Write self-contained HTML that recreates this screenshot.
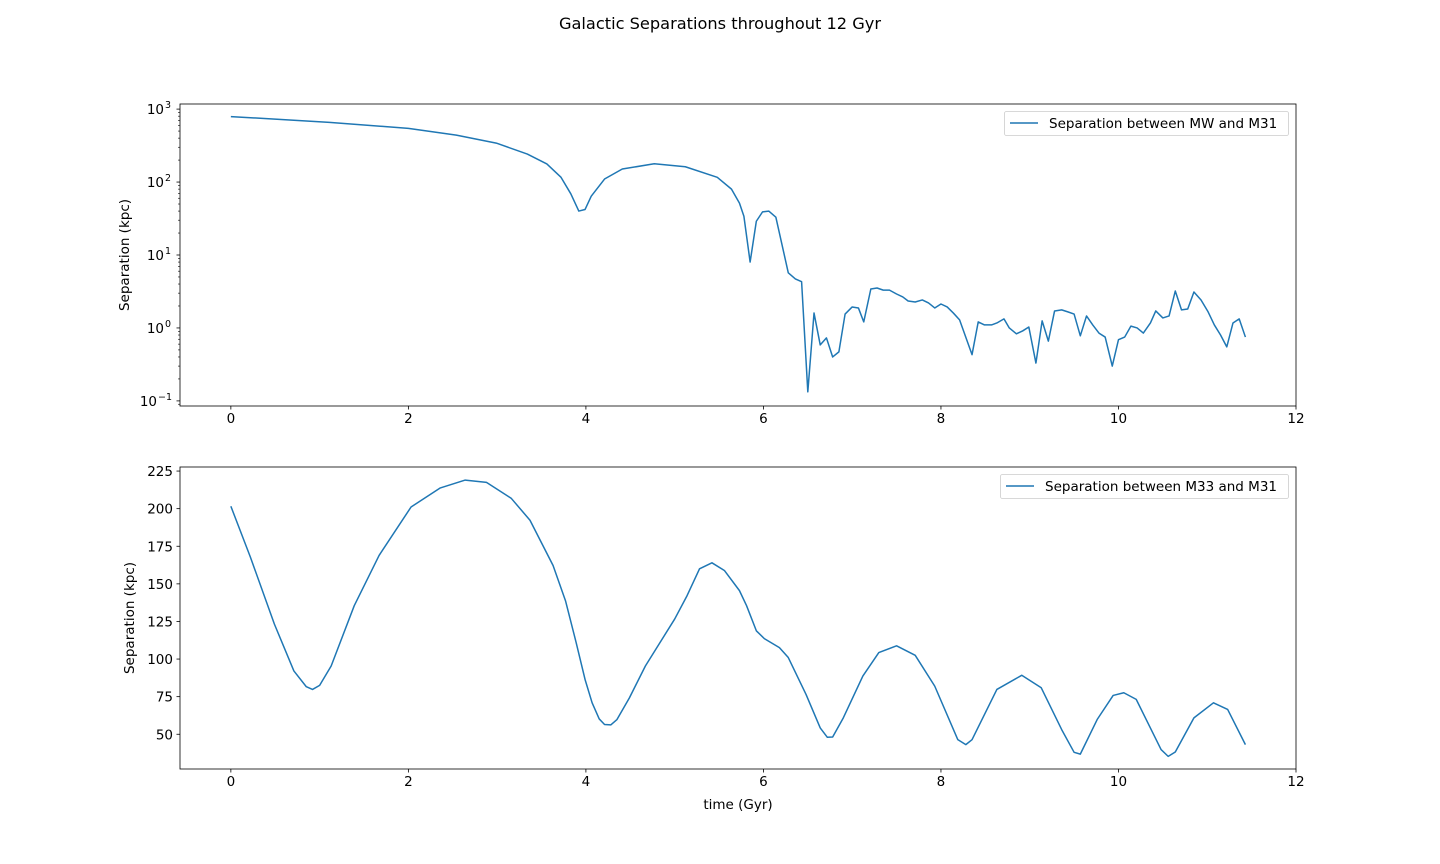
<!DOCTYPE html>
<html><head><meta charset="utf-8"><style>
html,body{margin:0;padding:0;background:#fff;}
svg{display:block;font-family:"DejaVu Sans","Liberation Sans",sans-serif;}
</style></head><body>
<svg id="fig" width="1440" height="864" viewBox="0 0 1440 864">
<rect width="1440" height="864" fill="#fff"/>
<text x="720" y="29" text-anchor="middle" font-size="16.2" fill="#000">Galactic Separations throughout 12 Gyr</text>
</svg>
<script>
const xTicks = [0, 2, 4, 6, 8, 10, 12];
const topYTickExps = [-1, 0, 1, 2, 3];
const botYTicks = [50, 75, 100, 125, 150, 175, 200, 225];

const mwTime = [0, 1.11, 2.0, 2.54, 2.99, 3.34, 3.56, 3.72, 3.83, 3.92, 3.99, 4.06, 4.21, 4.41, 4.77, 5.12, 5.48, 5.64,
 5.73, 5.78, 5.85, 5.92, 5.99, 6.06, 6.14, 6.28, 6.36, 6.43, 6.50, 6.57, 6.64, 6.71, 6.78, 6.85, 6.92, 7.00, 7.07, 7.13,
 7.21, 7.28, 7.35, 7.42, 7.50, 7.57, 7.63, 7.71, 7.79, 7.86, 7.93, 8.00, 8.07, 8.14, 8.21, 8.35, 8.42, 8.49, 8.57, 8.63,
 8.71, 8.77, 8.85, 8.92, 8.99, 9.07, 9.14, 9.21, 9.28, 9.36, 9.43, 9.50, 9.57, 9.64, 9.71, 9.78, 9.85, 9.93, 10.00,
 10.07, 10.14, 10.21, 10.28, 10.36, 10.42, 10.50, 10.57, 10.64, 10.71, 10.78, 10.85, 10.93, 11.01, 11.08, 11.15, 11.22,
 11.29, 11.36, 11.43];
const mwSep = [790, 658, 544, 440, 342, 242, 177, 116, 69, 40, 42, 64, 110, 151, 178, 162, 116, 80,
 51.5, 34, 8.0, 29, 39, 40, 33, 5.7, 4.7, 4.3, 0.133, 1.6, 0.585, 0.73, 0.40, 0.47, 1.55, 1.94, 1.88, 1.21,
 3.42, 3.53, 3.3, 3.3, 2.92, 2.66, 2.34, 2.27, 2.42, 2.2, 1.88, 2.13, 1.94, 1.6, 1.29, 0.43, 1.21, 1.1, 1.1, 1.17,
 1.33, 1.0, 0.83, 0.91, 1.03, 0.33, 1.25, 0.66, 1.71, 1.77, 1.66, 1.55, 0.78, 1.46, 1.1, 0.85, 0.75, 0.30, 0.69,
 0.75, 1.06, 1.0, 0.85, 1.17, 1.71, 1.37, 1.46, 3.21, 1.77, 1.82, 3.11, 2.42, 1.66, 1.1, 0.80, 0.55,
 1.17, 1.33, 0.75];

const m33Time = [0, 0.22, 0.49, 0.71, 0.85, 0.92, 1.0, 1.13, 1.39, 1.67, 2.03, 2.36, 2.64, 2.88, 3.16, 3.37, 3.63, 3.77,
 3.89, 3.99, 4.07, 4.15, 4.21, 4.28, 4.35, 4.49, 4.67, 5.0, 5.14, 5.28, 5.42, 5.56, 5.73, 5.81, 5.92, 6.01, 6.18, 6.28,
 6.48, 6.64, 6.72, 6.78, 6.90, 7.12, 7.30, 7.50, 7.71, 7.93, 8.19, 8.28, 8.35, 8.63, 8.91, 9.13, 9.36, 9.50, 9.57,
 9.76, 9.94, 10.06, 10.20, 10.48, 10.56, 10.64, 10.85, 11.07, 11.23, 11.43];
const m33Sep = [201.6, 167.8, 123.3, 92.1, 81.6, 79.8, 82.5, 95.4, 135.5, 168.9, 201.1, 213.8, 219, 217.5, 206.8, 192.3, 162.2, 138.8,
 111, 86.5, 70.9, 60.2, 56.5, 56.2, 59.8, 74.2, 95.4, 126.6, 142.2, 160, 164, 158.9, 145.5, 135.5, 118.8, 113.6, 107.6, 101,
 76.5, 54.2, 48, 48.2, 60.9, 88.7, 104.3, 108.8, 102.5, 82, 46.4, 43.1, 46.4, 79.8, 89.2, 80.9, 53.1, 38, 36.8,
 59.8, 75.8, 77.6, 73.2, 39.8, 35.3, 38.2, 60.9, 70.9, 66.5, 43.1];

const NS = 'http://www.w3.org/2000/svg';
const svg = document.getElementById('fig');
function mk(tag, attrs, parent) {
  const e = document.createElementNS(NS, tag);
  for (const k in attrs) e.setAttribute(k, attrs[k]);
  (parent || svg).appendChild(e);
  return e;
}
const L = 180, R = 1296;
const xMin = -0.573, xMax = 12;
function xs(t) { return L + (t - xMin) / (xMax - xMin) * (R - L); }

function panel(name) {
  const g = mk('g', {});
  
  
  return g;
}

// ---------- TOP PANEL ----------
const T1 = 104, B1 = 406;
const logMin = -1.07, logMax = 3.07;
function ys1(v) { return B1 - (Math.log10(v) - logMin) / (logMax - logMin) * (B1 - T1); }
const g1 = panel('top-panel');
let d = mwTime.map((t, i) => (i ? 'L' : 'M') + xs(t).toFixed(2) + ' ' + ys1(mwSep[i]).toFixed(2)).join(' ');
const line1 = mk('path', {d: d, fill: 'none', stroke: '#1f77b4', 'stroke-width': 1.5, 'stroke-linejoin': 'round'}, g1);


const frame1 = mk('rect', {x: L, y: T1, width: R - L, height: B1 - T1, fill: 'none', stroke: '#000', 'stroke-width': 0.8}, g1);


xTicks.forEach(t => {
  const x = xs(t);
  mk('line', {x1: x, x2: x, y1: B1, y2: B1 + 3.5, stroke: '#000', 'stroke-width': 0.8}, g1);
  const tx = mk('text', {x: x, y: B1 + 17, 'text-anchor': 'middle', 'font-size': 13.5}, g1);
  tx.textContent = t;
  
  
});
topYTickExps.forEach(e => {
  const y = ys1(Math.pow(10, e));
  mk('line', {x1: L, x2: L - 3.5, y1: y, y2: y, stroke: '#000', 'stroke-width': 0.8}, g1);
  const baseX = e < 0 ? L - 23 : L - 16;
  const tx = mk('text', {x: baseX, y: y + 5, 'text-anchor': 'end', 'font-size': 13.5}, g1);
  tx.textContent = '10';
  
  
  const sup = mk('text', {x: baseX + 1, y: y - 1, 'text-anchor': 'start', 'font-size': 9.5}, g1);
  sup.textContent = e < 0 ? '\u2212' + (-e) : String(e);
  
  
});
for (let e = -2; e <= 3; e++) {
  for (let m = 2; m <= 9; m++) {
    const v = m * Math.pow(10, e);
    const lv = Math.log10(v);
    if (lv < logMin || lv > logMax) continue;
    const y = ys1(v);
    mk('line', {x1: L, x2: L - 2, y1: y, y2: y, stroke: '#000', 'stroke-width': 0.6}, g1);
  }
}
const yl1 = mk('text', {x: 0, y: 0, 'text-anchor': 'middle', 'font-size': 13.5, transform: 'translate(129 255) rotate(-90)'}, g1);
yl1.textContent = 'Separation (kpc)';


const lg1 = mk('g', {}, g1);


mk('rect', {x: 1004.5, y: 111.5, width: 284, height: 24, rx: 2, fill: '#fff', stroke: '#ccc', 'stroke-width': 0.8}, lg1);
mk('line', {x1: 1010, x2: 1038, y1: 123, y2: 123, stroke: '#1f77b4', 'stroke-width': 1.5}, lg1);
const lt1 = mk('text', {x: 1049, y: 128, 'font-size': 13.5}, lg1);
lt1.textContent = 'Separation between MW and M31';



// ---------- BOTTOM PANEL ----------
const T2 = 467, B2 = 769;
const yMin2 = 26.9, yMax2 = 227.7;
function ys2(v) { return B2 - (v - yMin2) / (yMax2 - yMin2) * (B2 - T2); }
const g2 = panel('bottom-panel');
d = m33Time.map((t, i) => (i ? 'L' : 'M') + xs(t).toFixed(2) + ' ' + ys2(m33Sep[i]).toFixed(2)).join(' ');
const line2 = mk('path', {d: d, fill: 'none', stroke: '#1f77b4', 'stroke-width': 1.5, 'stroke-linejoin': 'round'}, g2);


const frame2 = mk('rect', {x: L, y: T2, width: R - L, height: B2 - T2, fill: 'none', stroke: '#000', 'stroke-width': 0.8}, g2);


xTicks.forEach(t => {
  const x = xs(t);
  mk('line', {x1: x, x2: x, y1: B2, y2: B2 + 3.5, stroke: '#000', 'stroke-width': 0.8}, g2);
  const tx = mk('text', {x: x, y: B2 + 17, 'text-anchor': 'middle', 'font-size': 13.5}, g2);
  tx.textContent = t;
  
  
});
botYTicks.forEach(v => {
  const y = ys2(v);
  mk('line', {x1: L, x2: L - 3.5, y1: y, y2: y, stroke: '#000', 'stroke-width': 0.8}, g2);
  const tx = mk('text', {x: L - 7, y: y + 5, 'text-anchor': 'end', 'font-size': 13.5}, g2);
  tx.textContent = v;
  
  
});
const yl2 = mk('text', {x: 0, y: 0, 'text-anchor': 'middle', 'font-size': 13.5, transform: 'translate(134 618) rotate(-90)'}, g2);
yl2.textContent = 'Separation (kpc)';


const xl = mk('text', {x: 738, y: 809, 'text-anchor': 'middle', 'font-size': 13.5}, g2);
xl.textContent = 'time (Gyr)';


const lg2 = mk('g', {}, g2);


mk('rect', {x: 1000.5, y: 474.5, width: 288, height: 24, rx: 2, fill: '#fff', stroke: '#ccc', 'stroke-width': 0.8}, lg2);
mk('line', {x1: 1006, x2: 1034, y1: 486, y2: 486, stroke: '#1f77b4', 'stroke-width': 1.5}, lg2);
const lt2 = mk('text', {x: 1045, y: 491, 'font-size': 13.5}, lg2);
lt2.textContent = 'Separation between M33 and M31';


</script>
</body></html>
